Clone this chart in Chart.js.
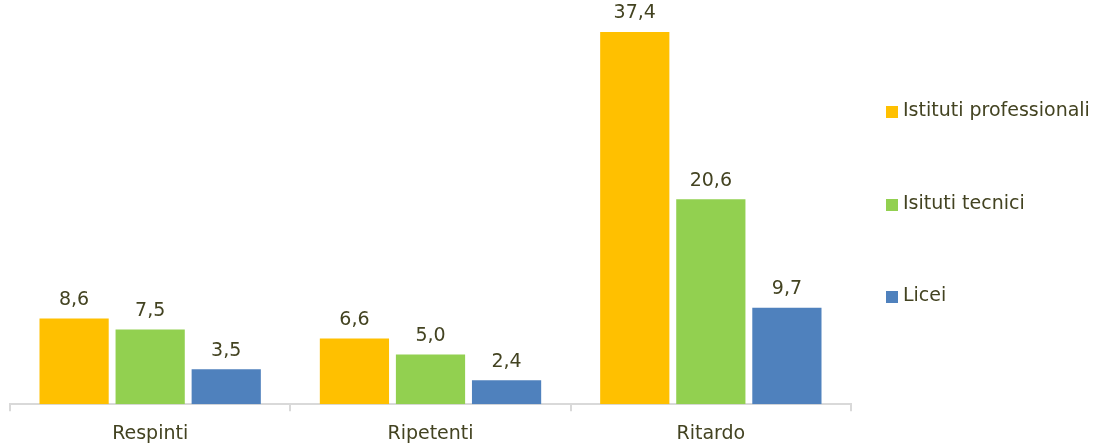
<!DOCTYPE html>
<html>
<head>
<meta charset="utf-8">
<script src="https://cdn.jsdelivr.net/npm/chart.js@4.4.0/dist/chart.umd.min.js"></script>
<style>
    html, body { margin: 0; padding: 0; background: #fff; overflow: hidden; }
    #wrap { width: 1095px; height: 446px; overflow: hidden; }
</style>
</head>
<body>
<div id="wrap"><canvas id="barChart" width="1095" height="456"></canvas></div>
<script>
const categories = ["Respinti", "Ripetenti", "Ritardo"];
const seriesNames = ["Istituti professionali", "Isituti tecnici", "Licei"];
const professionali = [8.6, 6.6, 37.4];
const tecnici = [7.5, 5.0, 20.6];
const licei = [3.5, 2.4, 9.7];
const colors = ["#FFC000", "#92D050", "#4F81BD"];

const textColor = "#434321";
const fontFamily = "'DejaVu Sans', sans-serif";
const fontSize = 19;

// labels above each bar, comma decimal
const valueLabels = {
    id: "valueLabels",
    afterDatasetsDraw(chart) {
        const ctx = chart.ctx;
        ctx.save();
        ctx.fillStyle = textColor;
        ctx.font = fontSize + "px " + fontFamily;
        ctx.textAlign = "center";
        ctx.textBaseline = "bottom";
        chart.data.datasets.forEach((ds, i) => {
            chart.getDatasetMeta(i).data.forEach((bar, j) => {
                ctx.fillText(ds.data[j].toFixed(1).replace(".", ","), bar.x, bar.y - 9);
            });
        });
        ctx.restore();
    }
};

// legend on the right, spread out vertically
const sideLegend = {
    id: "sideLegend",
    afterDraw(chart) {
        const ctx = chart.ctx;
        const rows = [111, 204, 296];
        ctx.save();
        ctx.font = fontSize + "px " + fontFamily;
        ctx.textBaseline = "middle";
        ctx.textAlign = "left";
        chart.data.datasets.forEach((ds, i) => {
            ctx.fillStyle = ds.backgroundColor;
            ctx.fillRect(886, rows[i] - 5, 12, 12);
            ctx.fillStyle = textColor;
            ctx.fillText(ds.label, 903, rows[i]);
        });
        ctx.restore();
    }
};

const data = {
    labels: categories,
    datasets: [professionali, tecnici, licei].map((values, i) => ({
        label: seriesNames[i],
        data: values,
        backgroundColor: colors[i],
        categoryPercentage: 0.814,
        barPercentage: 0.91
    }))
};

const chart = new Chart(document.getElementById("barChart"), {
    type: "bar",
    data: data,
    options: {
        responsive: false,
        animation: false,
        layout: { padding: { left: 10, right: 244, top: 6, bottom: 0 } },
        plugins: {
            legend: { display: false },
            tooltip: { enabled: false }
        },
        scales: {
            x: {
                grid: {
                    offset: true,
                    drawOnChartArea: false,
                    color: "#d9d9d9",
                    lineWidth: 2,
                    tickLength: 7
                },
                border: { display: true, color: "#d9d9d9", width: 2 },
                ticks: {
                    color: textColor,
                    font: { family: fontFamily, size: fontSize },
                    padding: 11
                }
            },
            y: {
                display: false,
                min: 0,
                max: 40
            }
        }
    },
    plugins: [valueLabels, sideLegend]
});
</script>
</body>
</html>
